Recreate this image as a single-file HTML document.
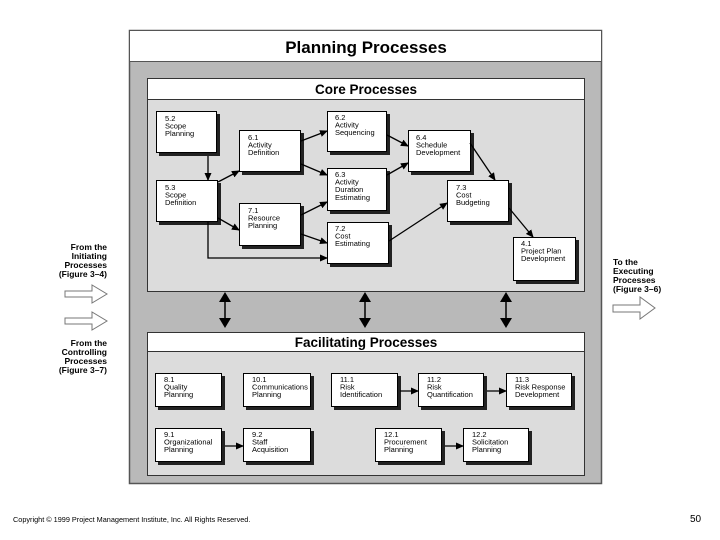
<!DOCTYPE html>
<html><head><meta charset="utf-8"><style>
html,body{margin:0;padding:0;background:#fff;width:720px;height:540px;overflow:hidden}
svg{display:block;font-family:"Liberation Sans",Arial,sans-serif}
.b text{font-size:7.5px}
</style></head><body>
<svg width="720" height="540" viewBox="0 0 720 540" xmlns="http://www.w3.org/2000/svg">
<defs>
<marker id="ah" markerWidth="8" markerHeight="8" refX="7" refY="4" orient="auto" markerUnits="userSpaceOnUse"><path d="M0,0.5 L8,4 L0,7.5 z" fill="#000"/></marker>
</defs>
<!-- outer frame -->
<rect x="129.5" y="30.5" width="472" height="453" fill="#b9b9b9" stroke="#555" stroke-width="1.5"/>
<rect x="129.5" y="30.5" width="472" height="31" fill="#fff" stroke="#555" stroke-width="1"/>
<text x="366" y="53" font-size="17" font-weight="bold" text-anchor="middle">Planning  Processes</text>
<!-- core -->
<rect x="147.5" y="78.5" width="437" height="213" fill="#dcdcdc" stroke="#333" stroke-width="1"/>
<rect x="147.5" y="78.5" width="437" height="21" fill="#fff" stroke="#333" stroke-width="1"/>
<text x="366" y="94" font-size="13.5" font-weight="bold" text-anchor="middle">Core  Processes</text>
<!-- facilitating -->
<rect x="147.5" y="332.5" width="437" height="143" fill="#dcdcdc" stroke="#333" stroke-width="1"/>
<rect x="147.5" y="332.5" width="437" height="19" fill="#fff" stroke="#333" stroke-width="1"/>
<text x="366" y="347" font-size="13.5" font-weight="bold" text-anchor="middle">Facilitating  Processes</text>

<g class="b" stroke-width="1">
<!-- box helper: shadow + white rect -->
<g id="boxes">
</g>
</g>
<g fill="#222">
<rect x="159" y="114" width="61" height="42"/><rect x="242" y="133" width="62" height="42"/>
<rect x="330" y="114" width="60" height="41"/><rect x="411" y="133" width="63" height="42"/>
<rect x="159" y="183" width="62" height="42"/><rect x="330" y="171" width="60" height="43"/>
<rect x="450" y="183" width="62" height="42"/><rect x="242" y="206" width="62" height="43"/>
<rect x="330" y="225" width="62" height="42"/><rect x="516" y="240" width="63" height="44"/>
<rect x="158" y="376" width="67" height="34"/><rect x="246" y="376" width="68" height="34"/>
<rect x="334" y="376" width="67" height="34"/><rect x="421" y="376" width="66" height="34"/>
<rect x="509" y="376" width="66" height="34"/>
<rect x="158" y="431" width="67" height="34"/><rect x="246" y="431" width="68" height="34"/>
<rect x="378" y="431" width="67" height="34"/><rect x="466" y="431" width="66" height="34"/>
</g>
<g fill="#fff" stroke="#000">
<rect x="156.5" y="111.5" width="60" height="41"/><rect x="239.5" y="130.5" width="61" height="41"/>
<rect x="327.5" y="111.5" width="59" height="40"/><rect x="408.5" y="130.5" width="62" height="41"/>
<rect x="156.5" y="180.5" width="61" height="41"/><rect x="327.5" y="168.5" width="59" height="42"/>
<rect x="447.5" y="180.5" width="61" height="41"/><rect x="239.5" y="203.5" width="61" height="42"/>
<rect x="327.5" y="222.5" width="61" height="41"/><rect x="513.5" y="237.5" width="62" height="43"/>
<rect x="155.5" y="373.5" width="66" height="33"/><rect x="243.5" y="373.5" width="67" height="33"/>
<rect x="331.5" y="373.5" width="66" height="33"/><rect x="418.5" y="373.5" width="65" height="33"/>
<rect x="506.5" y="373.5" width="65" height="33"/>
<rect x="155.5" y="428.5" width="66" height="33"/><rect x="243.5" y="428.5" width="67" height="33"/>
<rect x="375.5" y="428.5" width="66" height="33"/><rect x="463.5" y="428.5" width="65" height="33"/>
</g>
<g font-size="7.5" fill="#000">
<text x="165" y="121">5.2</text><text x="165" y="128.5">Scope</text><text x="165" y="136">Planning</text>
<text x="248" y="140">6.1</text><text x="248" y="147.5">Activity</text><text x="248" y="155">Definition</text>
<text x="335" y="120">6.2</text><text x="335" y="127.5">Activity</text><text x="335" y="135">Sequencing</text>
<text x="416" y="140">6.4</text><text x="416" y="147.5">Schedule</text><text x="416" y="155">Development</text>
<text x="165" y="190">5.3</text><text x="165" y="197.5">Scope</text><text x="165" y="205">Definition</text>
<text x="335" y="177">6.3</text><text x="335" y="184.5">Activity</text><text x="335" y="192">Duration</text><text x="335" y="200">Estimating</text>
<text x="456" y="190">7.3</text><text x="456" y="197.5">Cost</text><text x="456" y="205">Budgeting</text>
<text x="248" y="213">7.1</text><text x="248" y="220.5">Resource</text><text x="248" y="228">Planning</text>
<text x="335" y="231">7.2</text><text x="335" y="238.5">Cost</text><text x="335" y="246">Estimating</text>
<text x="521" y="246">4.1</text><text x="521" y="253.5">Project Plan</text><text x="521" y="261">Development</text>
<text x="164" y="382">8.1</text><text x="164" y="389.5">Quality</text><text x="164" y="397">Planning</text>
<text x="252" y="382">10.1</text><text x="252" y="389.5">Communications</text><text x="252" y="397">Planning</text>
<text x="340" y="382">11.1</text><text x="340" y="389.5">Risk</text><text x="340" y="397">Identification</text>
<text x="427" y="382">11.2</text><text x="427" y="389.5">Risk</text><text x="427" y="397">Quantification</text>
<text x="515" y="382">11.3</text><text x="515" y="389.5">Risk Response</text><text x="515" y="397">Development</text>
<text x="164" y="437">9.1</text><text x="164" y="444.5">Organizational</text><text x="164" y="452">Planning</text>
<text x="252" y="437">9.2</text><text x="252" y="444.5">Staff</text><text x="252" y="452">Acquisition</text>
<text x="384" y="437">12.1</text><text x="384" y="444.5">Procurement</text><text x="384" y="452">Planning</text>
<text x="472" y="437">12.2</text><text x="472" y="444.5">Solicitation</text><text x="472" y="452">Planning</text>
</g>
<g stroke="#000" stroke-width="1.3" fill="none" marker-end="url(#ah)">
<line x1="208" y1="156" x2="208" y2="180"/>
<line x1="218" y1="182" x2="239" y2="171"/>
<line x1="218" y1="218" x2="239" y2="230"/>
<polyline points="208,222 208,258 327,258"/>
<line x1="301" y1="141" x2="327" y2="131"/>
<line x1="301" y1="164" x2="327" y2="175"/>
<line x1="301" y1="215" x2="327" y2="202"/>
<line x1="301" y1="234" x2="327" y2="243"/>
<line x1="387" y1="135" x2="408" y2="146"/>
<line x1="387" y1="175" x2="408" y2="163"/>
<line x1="389" y1="241" x2="447" y2="203"/>
<line x1="470" y1="143" x2="495" y2="180"/>
<line x1="509" y1="208" x2="533" y2="237"/>
<line x1="400" y1="391" x2="418" y2="391"/>
<line x1="487" y1="391" x2="506" y2="391"/>
<line x1="225" y1="446" x2="243" y2="446"/>
<line x1="445" y1="446" x2="463" y2="446"/>
</g>
<!-- double arrows -->
<g stroke="#000" stroke-width="1.5">
<line x1="225" y1="297" x2="225" y2="323"/><line x1="365" y1="297" x2="365" y2="323"/><line x1="506" y1="297" x2="506" y2="323"/>
</g>
<g fill="#000">
<path d="M219,302 L225,292 L231,302z M219,318 L225,328 L231,318z"/>
<path d="M359,302 L365,292 L371,302z M359,318 L365,328 L371,318z"/>
<path d="M500,302 L506,292 L512,302z M500,318 L506,328 L512,318z"/>
</g>
<!-- side text -->
<g font-size="8.5" font-weight="bold" text-anchor="end">
<text x="107" y="250">From the</text><text x="107" y="259">Initiating</text><text x="107" y="268">Processes</text><text x="107" y="277">(Figure 3–4)</text>
<text x="107" y="346">From the</text><text x="107" y="355">Controlling</text><text x="107" y="364">Processes</text><text x="107" y="373">(Figure 3–7)</text>
</g>
<g font-size="8.5" font-weight="bold">
<text x="613" y="265">To the</text><text x="613" y="274">Executing</text><text x="613" y="283">Processes</text><text x="613" y="292">(Figure 3–6)</text>
</g>
<g fill="#fff" stroke="#777" stroke-width="1">
<path d="M65,291 L92,291 L92,285 L107,294 L92,303 L92,297 L65,297z"/>
<path d="M65,318 L92,318 L92,312 L107,321 L92,330 L92,324 L65,324z"/>
<path d="M613,305 L640,305 L640,297 L655,308 L640,319 L640,312 L613,312z"/>
</g>
<text x="13" y="522" font-size="7.3">Copyright © 1999 Project Management Institute, Inc. All Rights Reserved.</text>
<text x="690" y="522" font-size="10">50</text>
</svg>
</body></html>
